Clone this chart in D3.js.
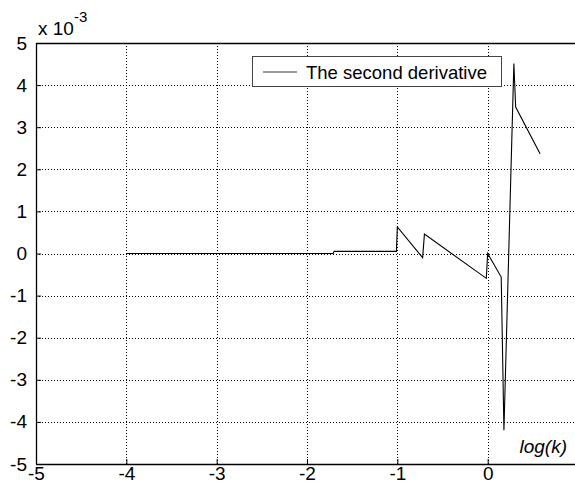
<!DOCTYPE html>
<html>
<head>
<meta charset="utf-8">
<script src="https://cdn.jsdelivr.net/npm/d3@7"></script>
<style>
  body { margin: 0; background: #fff; }
  svg { display: block; }
  text { font-family: "Liberation Sans", Arial, sans-serif; fill: #000; }
</style>
</head>
<body>
<div id="graph"></div>
<script>
// data (y in units of 1e-3)
const logK = [-4, -1.71, -1.70, -1.01, -1.0, -0.72, -0.70, -0.015, 0.0, 0.15, 0.18, 0.29, 0.31, 0.58];
const secondDeriv = [0, 0, 0.05, 0.05, 0.63, -0.10, 0.46, -0.59, 0.0, -0.56, -4.2, 4.51, 3.48, 2.37];
const xTicks = [-5, -4, -3, -2, -1, 0];
const yTicks = [-5, -4, -3, -2, -1, 0, 1, 2, 3, 4, 5];
const legendLabel = "The second derivative";

const W = 575, H = 485;
const plotLeft = 36, plotTop = 43, plotBottom = 464;

const svg = d3.select("#graph").append("svg")
    .attr("width", W)
    .attr("height", H);

const x = d3.scaleLinear().domain([-5, 1]).range([plotLeft, 578]);
const y = d3.scaleLinear().domain([-5, 5]).range([plotBottom, plotTop]);
const fmt = d => String(d); // plain hyphen like matlab

// grid
const grid = svg.append("g")
    .attr("stroke", "#000")
    .attr("stroke-width", 1)
    .attr("stroke-dasharray", "1,2")
    .attr("shape-rendering", "crispEdges");
grid.selectAll(".vg").data(xTicks.concat([1])).join("line")
    .attr("x1", d => Math.round(x(d)) + 0.5).attr("x2", d => Math.round(x(d)) + 0.5)
    .attr("y1", plotTop).attr("y2", plotBottom);
grid.selectAll(".hg").data(yTicks).join("line")
    .attr("x1", plotLeft).attr("x2", x(1))
    .attr("y1", d => Math.round(y(d)) + 0.5).attr("y2", d => Math.round(y(d)) + 0.5);

// axes box
const box = svg.append("g").attr("stroke", "#000").attr("stroke-width", 1.3).attr("fill", "none");
box.append("line").attr("x1", plotLeft).attr("x2", x(1)).attr("y1", plotTop + 0.5).attr("y2", plotTop + 0.5);
box.append("line").attr("x1", plotLeft + 0.5).attr("x2", plotLeft + 0.5).attr("y1", plotTop).attr("y2", plotBottom);
box.append("line").attr("x1", plotLeft).attr("x2", x(1)).attr("y1", plotBottom + 0.5).attr("y2", plotBottom + 0.5);

// axes with inward ticks
const xAxis = d3.axisBottom(x).tickValues(xTicks).tickFormat(fmt)
    .tickSizeInner(-5).tickSizeOuter(0);
svg.append("g").attr("transform", `translate(0,${plotBottom})`).call(xAxis)
    .call(g => g.select(".domain").remove())
    .call(g => g.selectAll("text").attr("y", 16).attr("dy", null)
        .attr("font-size", 19).attr("font-family", "Liberation Sans"));

const yAxis = d3.axisLeft(y).tickValues(yTicks).tickFormat(fmt)
    .tickSizeInner(-5).tickSizeOuter(0).tickPadding(9);
svg.append("g").attr("transform", `translate(${plotLeft},0)`).call(yAxis)
    .call(g => g.select(".domain").remove())
    .call(g => g.selectAll("text").attr("font-size", 19).attr("font-family", "Liberation Sans"));

// exponent label
const expo = svg.append("text").attr("x", 38).attr("y", 35).attr("font-size", 19);
expo.append("tspan").text("x 10");
expo.append("tspan").attr("dy", -13).attr("font-size", 15).text("-3");

// x label
svg.append("text").attr("x", 567).attr("y", 453)
    .attr("text-anchor", "end").attr("font-size", 19).attr("font-style", "italic")
    .text("log(k)");

// the curve
const line = d3.line().x((d, i) => x(logK[i])).y(d => y(d));
svg.append("path").datum(secondDeriv)
    .attr("fill", "none").attr("stroke", "#000").attr("stroke-width", 1.1)
    .attr("d", line);

// legend
const lg = svg.append("g");
lg.append("rect").attr("x", 252.5).attr("y", 56.5).attr("width", 249).attr("height", 30)
    .attr("fill", "#fff").attr("stroke", "#444").attr("stroke-width", 1);
lg.append("line").attr("x1", 263).attr("x2", 297).attr("y1", 72).attr("y2", 72)
    .attr("stroke", "#333").attr("stroke-width", 1);
lg.append("text").attr("x", 306).attr("y", 78.5).attr("font-size", 18.5).text(legendLabel);
</script>
</body>
</html>
